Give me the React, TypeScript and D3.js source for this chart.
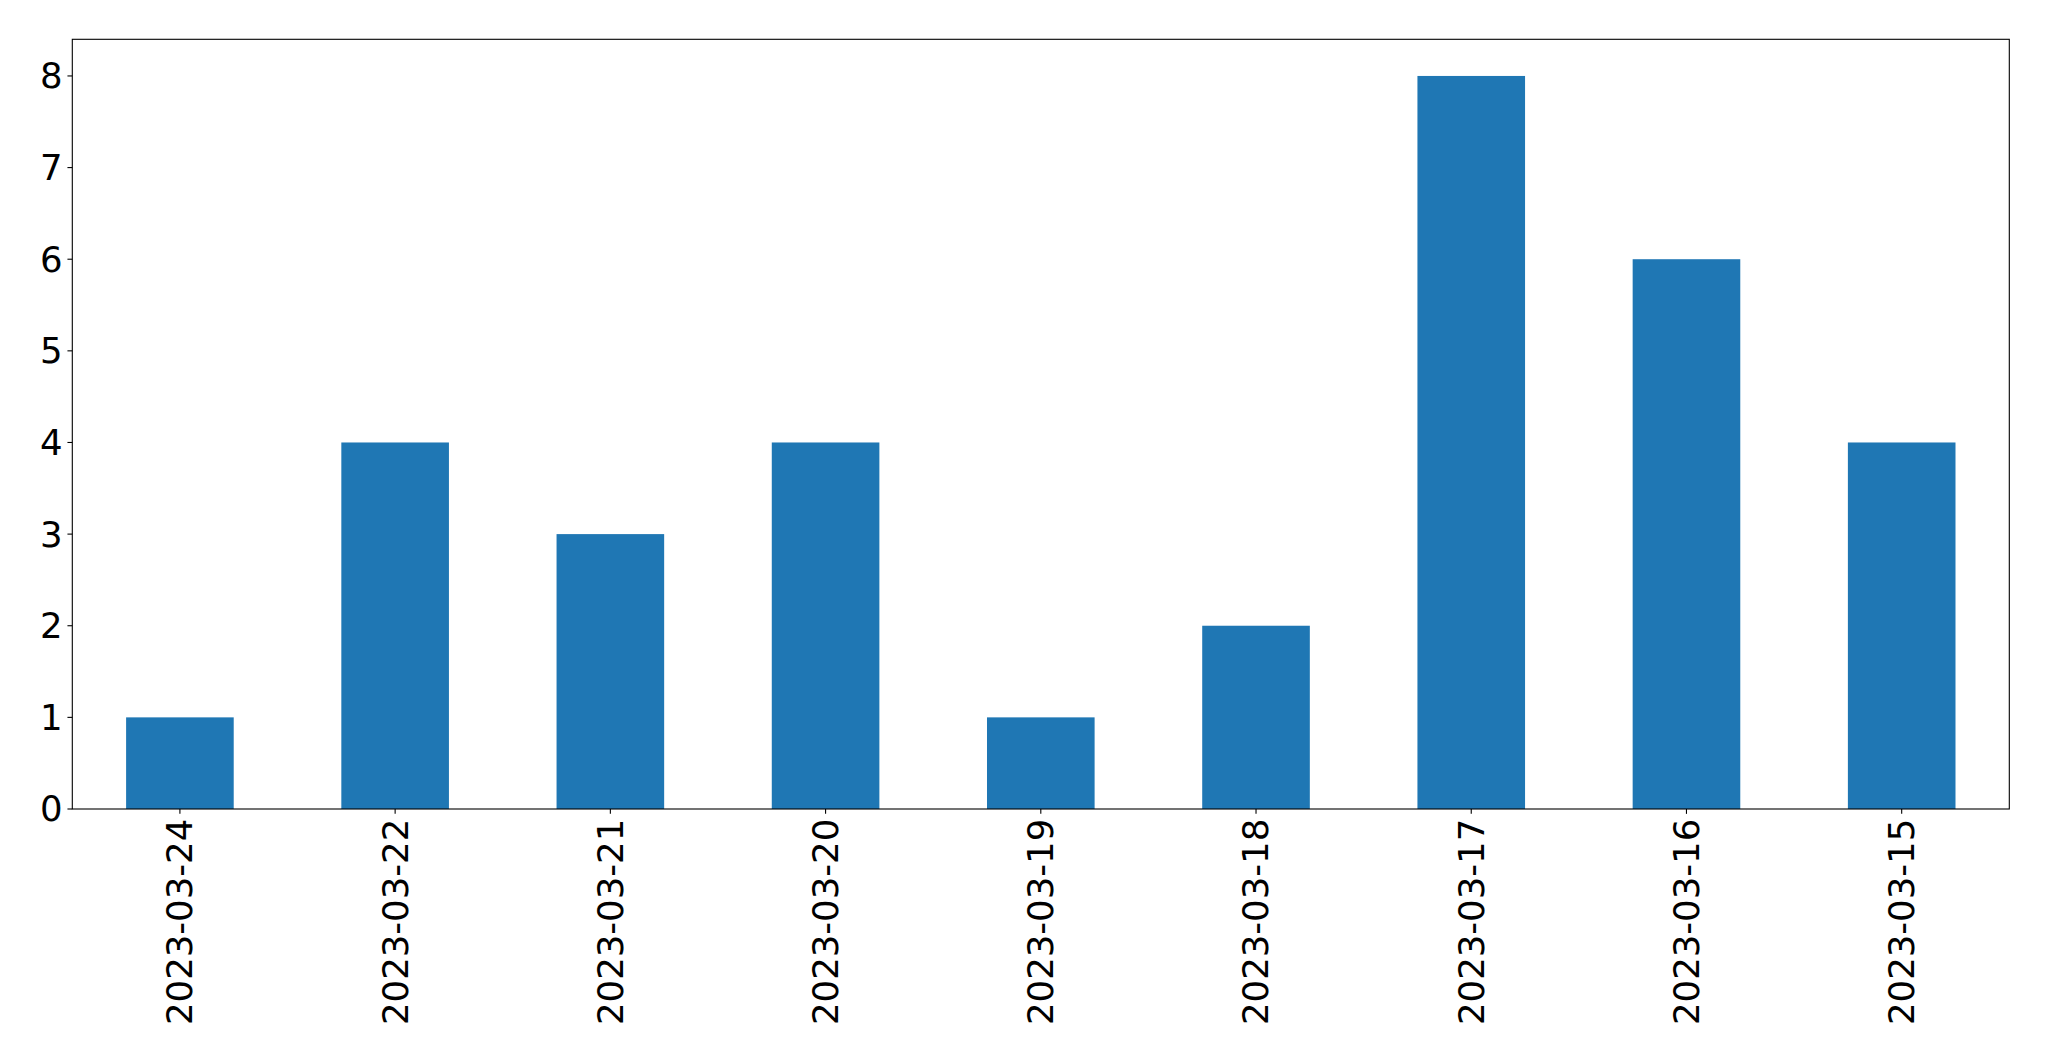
import React from 'react';
import * as d3 from 'd3';

const dates = [
  '2023-03-24', '2023-03-22', '2023-03-21', '2023-03-20', '2023-03-19',
  '2023-03-18', '2023-03-17', '2023-03-16', '2023-03-15',
];
const counts = [1, 4, 3, 4, 1, 2, 8, 6, 4];
const yTicks = [0, 1, 2, 3, 4, 5, 6, 7, 8];

const W = 2049;
const H = 1061;
const margin = { top: 39.3, right: 39.7, bottom: 252, left: 72.3 };
const fontSize = 35.5;
const tickLen = 4.86;
const pad = 4.86;

const App: React.FC = () => {
  const innerW = W - margin.left - margin.right;
  const innerH = H - margin.top - margin.bottom;

  // matplotlib-style band: xlim -0.5..n-0.5, bar width 0.5
  const x = d3.scaleLinear()
    .domain([-0.5, dates.length - 0.5])
    .range([margin.left, margin.left + innerW]);
  const yMax = (d3.max(counts) ?? 0) * 1.05;
  const y = d3.scaleLinear()
    .domain([0, yMax])
    .range([margin.top + innerH, margin.top]);

  const barW = x(0.5) - x(0);
  const font = 'DejaVu Sans, sans-serif';

  return (
    <svg
      width={W}
      height={H}
      style={{ position: 'absolute', top: 0, left: 0, background: '#fff' }}
    >
      {counts.map((v, i) => (
        <rect
          key={dates[i]}
          x={x(i) - barW / 2}
          y={y(v)}
          width={barW}
          height={y(0) - y(v)}
          fill="#1f77b4"
        />
      ))}

      {/* y axis ticks */}
      {yTicks.map(t => (
        <g key={t}>
          <line
            x1={margin.left - tickLen}
            x2={margin.left}
            y1={y(t)}
            y2={y(t)}
            stroke="#000"
            strokeWidth={1.1}
          />
          <text
            x={margin.left - tickLen - pad}
            y={y(t)}
            dy="0.35em"
            textAnchor="end"
            fontFamily={font}
            fontSize={fontSize}
            fill="#000"
          >
            {t}
          </text>
        </g>
      ))}

      {/* x axis ticks */}
      {dates.map((d, i) => (
        <g key={d}>
          <line
            x1={x(i)}
            x2={x(i)}
            y1={y(0)}
            y2={y(0) + tickLen}
            stroke="#000"
            strokeWidth={1.1}
          />
          <text
            transform={`translate(${x(i)},${y(0) + tickLen + pad}) rotate(-90)`}
            dy="0.35em"
            textAnchor="end"
            fontFamily={font}
            fontSize={fontSize}
            fill="#000"
          >
            {d}
          </text>
        </g>
      ))}

      <rect
        x={margin.left}
        y={margin.top}
        width={innerW}
        height={innerH}
        fill="none"
        stroke="#000"
        strokeWidth={1.1}
      />
    </svg>
  );
};

export default App;
